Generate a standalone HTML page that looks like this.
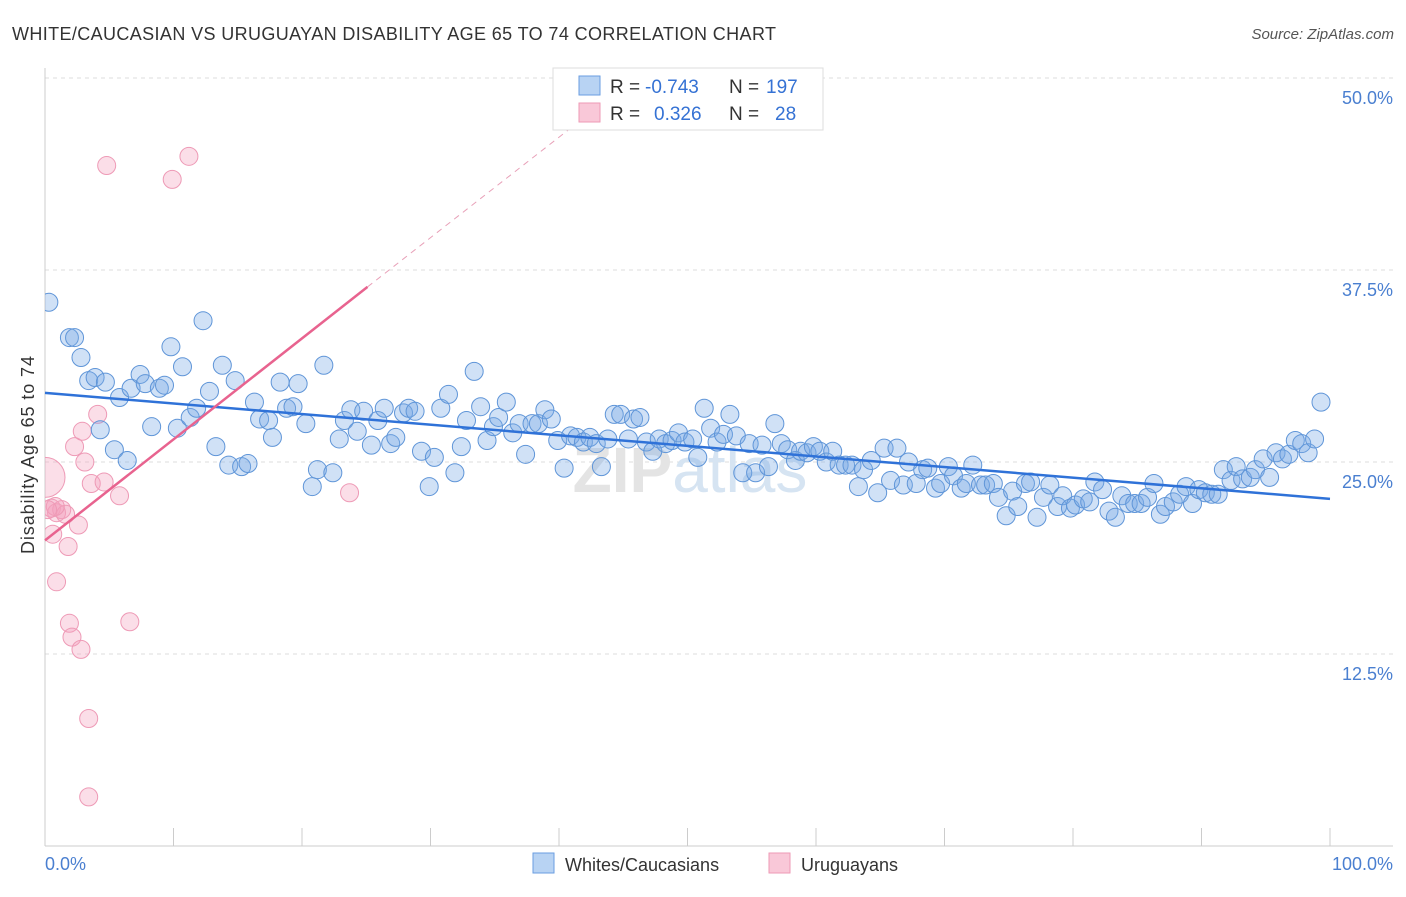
<!DOCTYPE html>
<html><head><meta charset="utf-8"><style>
body{margin:0;background:#fff;font-family:"Liberation Sans",sans-serif;}
svg text{font-family:"Liberation Sans",sans-serif;}
</style></head><body>
<svg width="1406" height="892" viewBox="0 0 1406 892">
<defs><clipPath id="plotclip"><rect x="45" y="60" width="1360" height="786"/></clipPath></defs>
<text x="12" y="40" font-size="18" fill="#333" textLength="764">WHITE/CAUCASIAN VS URUGUAYAN DISABILITY AGE 65 TO 74 CORRELATION CHART</text>
<text x="1394" y="39" font-size="15" fill="#555" text-anchor="end" font-style="italic">Source: ZipAtlas.com</text>
<g id="grid"></g>
<text x="690" y="492" font-size="64" fill="#e4e4e4" font-weight="bold" text-anchor="middle">ZIP<tspan fill="#d6e4f2" font-weight="normal">atlas</tspan></text>
<g id="axes"></g>
<g id="pts" clip-path="url(#plotclip)"></g>
<g id="trend"></g>
<text transform="translate(34,455) rotate(-90)" font-size="18" fill="#333" text-anchor="middle" textLength="198">Disability Age 65 to 74</text>
<text x="45" y="870" font-size="18" fill="#4a7fd0">0.0%</text>
<text x="1393" y="870" font-size="18" fill="#4a7fd0" text-anchor="end">100.0%</text>
<g>
<rect x="553" y="68" width="270" height="62" fill="#fff" stroke="#ddd"/>
<rect x="579" y="76" width="21" height="19" fill="#b8d3f3" stroke="#6a9ee0"/>
<rect x="579" y="103" width="21" height="19" fill="#f9c8d8" stroke="#ee9ab6"/>
<text x="610" y="93" font-size="19" fill="#333">R =</text>
<text x="645" y="93" font-size="19" fill="#3572d4">-0.743</text>
<text x="729" y="93" font-size="19" fill="#333">N =</text>
<text x="766" y="93" font-size="19" fill="#3572d4">197</text>
<text x="610" y="120" font-size="19" fill="#333">R =</text>
<text x="654" y="120" font-size="19" fill="#3572d4">0.326</text>
<text x="729" y="120" font-size="19" fill="#333">N =</text>
<text x="775" y="120" font-size="19" fill="#3572d4">28</text>
</g>
<g>
<rect x="533" y="853" width="21" height="20" fill="#b8d3f3" stroke="#6a9ee0"/>
<text x="565" y="871" font-size="18" fill="#333">Whites/Caucasians</text>
<rect x="769" y="853" width="21" height="20" fill="#f9c8d8" stroke="#ee9ab6"/>
<text x="801" y="871" font-size="18" fill="#333">Uruguayans</text>
</g>
</svg>
<script>
const yTicks=[12.5,25,37.5,50];
const yTickLabels=["12.5%","25.0%","37.5%","50.0%"];
const xTicks=[0,10,20,30,40,50,60,70,80,90,100];
const blueX=[0.3,1.9,2.3,2.8,3.4,3.9,4.7,4.3,5.4,5.8,6.4,6.7,7.4,7.8,8.3,8.9,9.3,9.8,10.3,10.7,11.3,11.8,12.3,12.8,13.3,13.8,14.3,14.8,15.3,15.8,16.3,16.7,17.4,17.7,18.3,18.8,19.3,19.7,20.3,20.8,21.2,21.7,22.4,22.9,23.3,23.8,24.3,24.8,25.4,25.9,26.4,26.9,27.3,27.9,28.3,28.8,29.3,29.9,30.3,30.8,31.4,31.9,32.4,32.8,33.4,33.9,34.4,34.9,35.3,35.9,36.4,36.9,37.4,37.9,38.4,38.9,39.4,39.9,40.4,40.9,41.4,41.9,42.4,42.9,43.3,43.8,44.3,44.8,45.4,45.8,46.3,46.8,47.3,47.8,48.3,48.8,49.3,49.8,50.4,50.8,51.3,51.8,52.3,52.8,53.3,53.8,54.3,54.8,55.3,55.8,56.3,56.8,57.3,57.8,58.4,58.8,59.3,59.8,60.3,60.8,61.3,61.8,62.3,62.8,63.3,63.7,64.3,64.8,65.3,65.8,66.3,66.8,67.2,67.8,68.3,68.7,69.3,69.7,70.3,70.7,71.3,71.7,72.2,72.8,73.2,73.8,74.2,74.8,75.3,75.7,76.3,76.7,77.2,77.7,78.2,78.8,79.2,79.8,80.2,80.8,81.3,81.7,82.3,82.8,83.3,83.8,84.3,84.8,85.3,85.8,86.3,86.8,87.2,87.8,88.3,88.8,89.3,89.8,90.3,90.8,91.3,91.7,92.3,92.7,93.2,93.8,94.2,94.8,95.3,95.8,96.3,96.8,97.3,97.8,98.3,98.8,99.3];
const blueY=[35.4,33.1,33.1,31.8,30.3,30.5,30.2,27.1,25.8,29.2,25.1,29.8,30.7,30.1,27.3,29.8,30.0,32.5,27.2,31.2,27.9,28.5,34.2,29.6,26.0,31.3,24.8,30.3,24.7,24.9,28.9,27.8,27.7,26.6,30.2,28.5,28.6,30.1,27.5,23.4,24.5,31.3,24.3,26.5,27.7,28.4,27.0,28.3,26.1,27.7,28.5,26.2,26.6,28.2,28.5,28.3,25.7,23.4,25.3,28.5,29.4,24.3,26.0,27.7,30.9,28.6,26.4,27.3,27.9,28.9,26.9,27.5,25.5,27.5,27.5,28.4,27.8,26.4,24.6,26.7,26.6,26.3,26.6,26.2,24.7,26.5,28.1,28.1,26.5,27.8,27.9,26.3,25.7,26.5,26.2,26.4,26.9,26.3,26.5,25.3,28.5,27.2,26.3,26.8,28.1,26.7,24.3,26.2,24.3,26.1,24.7,27.5,26.2,25.8,25.1,25.7,25.6,26.0,25.7,25.0,25.7,24.8,24.8,24.8,23.4,24.5,25.1,23.0,25.9,23.8,25.9,23.5,25.0,23.6,24.5,24.6,23.3,23.6,24.7,24.1,23.3,23.6,24.8,23.5,23.5,23.6,22.7,21.5,23.1,22.1,23.6,23.7,21.4,22.7,23.5,22.1,22.8,22.0,22.2,22.6,22.4,23.7,23.2,21.8,21.4,22.8,22.3,22.3,22.3,22.7,23.6,21.6,22.1,22.4,22.9,23.4,22.3,23.2,23.0,22.9,22.9,24.5,23.8,24.7,23.9,24.0,24.5,25.2,24.0,25.6,25.2,25.5,26.4,26.2,25.6,26.5,28.9];
const pinkX=[0.0,4.8,11.2,9.9,0.5,0.9,1.3,1.6,0.6,1.8,0.9,1.9,2.1,2.8,3.4,3.4,2.3,2.9,4.1,3.1,3.6,4.6,5.8,2.6,6.6,23.7,0.8,0.2];
const pinkY=[24.0,44.3,44.9,43.4,22.0,21.7,21.9,21.6,20.3,19.5,17.2,14.5,13.6,12.8,8.3,3.2,26.0,27.0,28.1,25.0,23.6,23.7,22.8,20.9,14.6,23.0,22.1,21.9];
const pinkR=[20,9,9,9,9,9,9,9,9,9,9,9,9,9,9,9,9,9,9,9,9,9,9,9,9,9,9,9];
const blueTrend=[[0,29.5],[100,22.6]];
const pinkTrendSolid=[[0,19.9],[25.1,36.4]];
const pinkTrendDash=[[25.1,36.4],[41,46.8]];

const NS="http://www.w3.org/2000/svg";
const X=v=>45+v*12.85;
const Y=v=>846-v*15.36;
function mk(t,a,p){const e=document.createElementNS(NS,t);for(const k in a)e.setAttribute(k,a[k]);p.appendChild(e);return e;}
const grid=document.getElementById('grid');
mk('line',{x1:45,x2:1393,y1:Y(50),y2:Y(50),stroke:'#ddd','stroke-dasharray':'4 4'},grid);
yTicks.forEach((v,i)=>{
 const l=mk('line',{x1:45,x2:1393,y1:Y(v),y2:Y(v),stroke:'#ddd','stroke-dasharray':'4 4'},grid);
 
 
 const t=mk('text',{x:1393,y:Y(v)+26,'font-size':18,fill:'#4a7fd0','text-anchor':'end'},grid);
 t.textContent=yTickLabels[i];
 
 
});
const axes=document.getElementById('axes');
mk('line',{x1:45,x2:45,y1:68,y2:846,stroke:'#ccc'},axes);
mk('line',{x1:45,x2:1393,y1:846,y2:846,stroke:'#ccc'},axes);
xTicks.forEach(v=>{
 const l=mk('line',{x1:X(v),x2:X(v),y1:828,y2:846,stroke:'#ccc'},axes);
 
 
});
const pts=document.getElementById('pts');
pinkX.forEach((v,i)=>{
 const c=mk('circle',{cx:X(v),cy:Y(pinkY[i]),r:pinkR[i],fill:'rgba(244,160,190,0.35)',stroke:'#ee9ab6','stroke-width':1},pts);
 
 
});
blueX.forEach((v,i)=>{
 const c=mk('circle',{cx:X(v),cy:Y(blueY[i]),r:9,fill:'rgba(120,170,230,0.35)',stroke:'#5f95d8','stroke-width':1},pts);
 
 
});
const tr=document.getElementById('trend');
const b=mk('line',{x1:X(blueTrend[0][0]),y1:Y(blueTrend[0][1]),x2:X(blueTrend[1][0]),y2:Y(blueTrend[1][1]),stroke:'#2f72d8','stroke-width':2.5},tr);


const p=mk('line',{x1:X(pinkTrendSolid[0][0]),y1:Y(pinkTrendSolid[0][1]),x2:X(pinkTrendSolid[1][0]),y2:Y(pinkTrendSolid[1][1]),stroke:'#e8638f','stroke-width':2.5},tr);


const pd=mk('line',{x1:X(pinkTrendDash[0][0]),y1:Y(pinkTrendDash[0][1]),x2:X(pinkTrendDash[1][0]),y2:Y(pinkTrendDash[1][1]),stroke:'#e8a0b8','stroke-width':1,'stroke-dasharray':'6 5'},tr);


</script>
</body></html>
